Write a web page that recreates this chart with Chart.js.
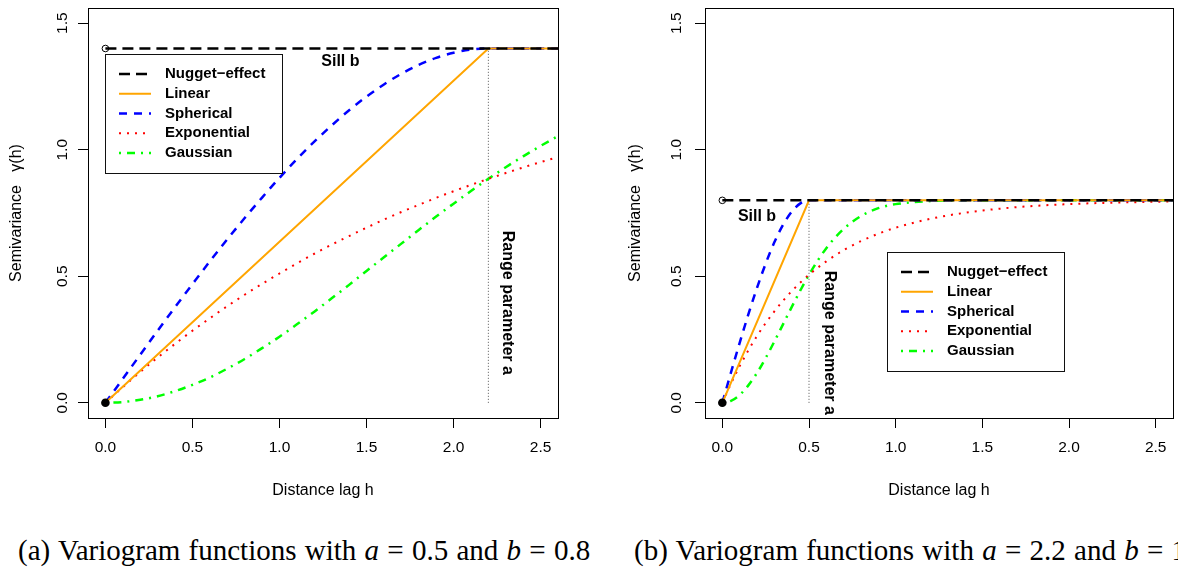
<!DOCTYPE html>
<html>
<head>
<meta charset="utf-8">
<script src="https://cdn.jsdelivr.net/npm/chart.js@4.4.1/dist/chart.umd.min.js"></script>
<style>
  html, body { margin: 0; padding: 0; background: #fff; }
  body { width: 1178px; height: 569px; position: relative; overflow: hidden; }
  .panel { position: absolute; top: 0; width: 589px; height: 520px; }
  .caption {
    position: absolute; top: 533px;
    font-family: "Liberation Serif", "Times New Roman", serif;
    font-size: 29px; line-height: 34px; white-space: nowrap; color: #000;
    word-spacing: 1px;
  }
</style>
</head>
<body>
<div class="panel" style="left:0"><canvas id="left"></canvas></div>
<div class="panel" style="left:589px"><canvas id="right"></canvas></div>
<div class="caption" style="left:18px">(a) Variogram functions with <i>a</i> = 0.5 and <i>b</i> = 0.8</div>
<div class="caption" style="left:634px">(b) Variogram functions with <i>a</i> = 2.2 and <i>b</i> = 1.4</div>
<script>
// axis ticks (same for both panels)
const xTicks = [0, 0.5, 1, 1.5, 2, 2.5];
const yTicks = [0, 0.5, 1, 1.5];
const modelNames = ['Nugget\u2212effect', 'Linear', 'Spherical', 'Exponential', 'Gaussian'];

// left panel: range 2.2, sill 1.4
const rangeLeft = 2.2;
const sillLeft = 1.4;
const hLeft = [0, 0.1, 0.2, 0.3, 0.4, 0.5, 0.6, 0.7, 0.8, 0.9, 1.0, 1.1, 1.2, 1.3,
  1.4, 1.5, 1.6, 1.7, 1.8, 1.9, 2.0, 2.1, 2.2, 2.3, 2.4, 2.5, 2.6];
const linLeftH = [0, 2.2, 2.6];
const linLeft = [0, 1.4, 1.4];
const sphLeft = [0, 0.095, 0.190, 0.285, 0.378, 0.469, 0.559, 0.646, 0.730, 0.811,
  0.889, 0.963, 1.032, 1.096, 1.156, 1.210, 1.258, 1.300, 1.335, 1.363, 1.383,
  1.396, 1.4, 1.4, 1.4, 1.4, 1.4];
const expLeft = [0, 0.062, 0.122, 0.179, 0.233, 0.285, 0.334, 0.382, 0.427, 0.470,
  0.511, 0.551, 0.589, 0.625, 0.659, 0.692, 0.724, 0.754, 0.782, 0.810, 0.836,
  0.861, 0.885, 0.908, 0.930, 0.951, 0.971];
const gauLeft = [0, 0.003, 0.012, 0.026, 0.046, 0.071, 0.100, 0.135, 0.173, 0.216,
  0.261, 0.310, 0.360, 0.413, 0.466, 0.521, 0.575, 0.629, 0.683, 0.736, 0.787,
  0.837, 0.885, 0.931, 0.974, 1.015, 1.054];

// right panel: range 0.5, sill 0.8
const rangeRight = 0.5;
const sillRight = 0.8;
const hRight = [0, 0.05, 0.1, 0.15, 0.2, 0.25, 0.3, 0.35, 0.4, 0.45, 0.5, 0.6, 0.7,
  0.8, 0.9, 1.0, 1.2, 1.4, 1.6, 1.8, 2.0, 2.2, 2.4, 2.6];
const linRightH = [0, 0.5, 2.6];
const linRight = [0, 0.8, 0.8];
const sphRight = [0, 0.120, 0.237, 0.349, 0.454, 0.550, 0.634, 0.703, 0.755, 0.788,
  0.8, 0.8, 0.8, 0.8, 0.8, 0.8, 0.8, 0.8, 0.8, 0.8, 0.8, 0.8, 0.8, 0.8];
const expRight = [0, 0.076, 0.145, 0.207, 0.264, 0.315, 0.361, 0.403, 0.441, 0.475,
  0.506, 0.559, 0.603, 0.639, 0.668, 0.692, 0.727, 0.751, 0.767, 0.778, 0.785,
  0.790, 0.793, 0.796];
const gauRight = [0, 0.008, 0.031, 0.069, 0.118, 0.177, 0.242, 0.310, 0.378, 0.444,
  0.506, 0.611, 0.687, 0.738, 0.769, 0.785, 0.797, 0.8, 0.8, 0.8, 0.8, 0.8, 0.8, 0.8];

const SANS = '"Liberation Sans", Arial, Helvetica, sans-serif';
const pts = (xs, ys) => xs.map((x, i) => ({ x, y: ys[i] }));

// box, annotations and the legend drawn R-style inside the plot
const decor = {
  id: 'decor',
  afterDraw(chart, args, o) {
    const { ctx, chartArea: a, scales: { x, y } } = chart;
    ctx.save();
    ctx.strokeStyle = '#000';
    ctx.lineWidth = 1;
    ctx.strokeRect(a.left + 0.5, a.top + 0.5, a.right - a.left, a.bottom - a.top);

    ctx.fillStyle = '#000';
    ctx.font = 'bold 16px ' + SANS;
    ctx.textAlign = 'center';
    ctx.textBaseline = 'middle';
    ctx.fillText('Sill b', x.getPixelForValue(o.sillText[0]), y.getPixelForValue(o.sillText[1]));
    ctx.save();
    ctx.translate(x.getPixelForValue(o.rangeText[0]), y.getPixelForValue(o.rangeText[1]));
    ctx.rotate(Math.PI / 2);
    ctx.fillText('Range parameter a', 0, 0);
    ctx.restore();

    const lx = Math.round(x.getPixelForValue(o.legendAt[0])) + 0.5;
    const ly = Math.round(y.getPixelForValue(o.legendAt[1])) + 0.5;
    ctx.fillStyle = '#fff';
    ctx.fillRect(lx, ly, 177, 119);
    ctx.strokeStyle = '#111';
    ctx.strokeRect(lx, ly, 177, 119);
    ctx.font = 'bold 15px ' + SANS;
    ctx.textAlign = 'left';
    modelNames.forEach((name, i) => {
      const ds = chart.data.datasets.find(d => d.label === name);
      const ry = ly + 19.5 + i * 19.75;
      ctx.beginPath();
      ctx.setLineDash(ds.borderDash || []);
      ctx.strokeStyle = ds.borderColor;
      ctx.lineWidth = ds.borderWidth;
      ctx.moveTo(lx + 13.5, ry);
      ctx.lineTo(lx + 45.5, ry);
      ctx.stroke();
      ctx.setLineDash([]);
      ctx.fillStyle = '#000';
      ctx.fillText(name, lx + 59.5, ry);
    });
    ctx.restore();
  }
};

function axisFont(size) {
  return { family: SANS, size: size };
}

function makeChart(id, p) {
  const datasets = [
    { label: modelNames[0], data: pts([0, 2.6], [p.sill, p.sill]), borderColor: '#000',
      borderWidth: 2.5, borderDash: [11, 6], pointRadius: 0 },
    { label: 'open', data: pts([0], [p.sill]), showLine: false, pointRadius: 3.3,
      backgroundColor: '#fff', borderColor: '#000', borderWidth: 1 },
    { label: 'origin', data: pts([0], [0]), showLine: false, pointRadius: 4.3,
      backgroundColor: '#000', borderColor: '#000', borderWidth: 0 },
    { label: modelNames[1], data: pts(p.linH, p.lin), borderColor: '#FFA500',
      borderWidth: 2, pointRadius: 0 },
    { label: modelNames[2], data: pts(p.h, p.sph), borderColor: '#0000FF',
      borderWidth: 2.5, borderDash: [8, 7], pointRadius: 0, cubicInterpolationMode: 'monotone' },
    { label: modelNames[3], data: pts(p.h, p.exp), borderColor: '#FF0000',
      borderWidth: 2, borderDash: [2, 6], pointRadius: 0, cubicInterpolationMode: 'monotone' },
    { label: modelNames[4], data: pts(p.h, p.gau), borderColor: '#00FF00',
      borderWidth: 2.5, borderDash: [2, 6, 8, 6], pointRadius: 0, cubicInterpolationMode: 'monotone' },
    { label: 'range', data: pts([p.range, p.range], [0, p.sill]), borderColor: '#555',
      borderWidth: 1, borderDash: [1, 2], pointRadius: 0 }
  ];

  return new Chart(document.getElementById(id), {
    type: 'line',
    data: { datasets },
    options: {
      responsive: true,
      maintainAspectRatio: false,
      animation: false,
      events: [],
      layout: { padding: { left: p.padLeft, right: p.padRight, top: 8, bottom: 0 } },
      plugins: {
        legend: { display: false },
        tooltip: { enabled: false },
        decor: { sillText: p.sillText, rangeText: p.rangeText, legendAt: p.legendAt }
      },
      scales: {
        x: {
          type: 'linear', min: -0.1, max: 2.6,
          afterBuildTicks: s => { s.ticks = xTicks.map(v => ({ value: v })); },
          afterFit: s => { s.height = 102; s.paddingLeft = 0; s.paddingRight = 0; },
          ticks: { font: axisFont(15.5), color: '#000', padding: 10, autoSkip: false,
            maxRotation: 0, callback: v => v.toFixed(1) },
          grid: { display: true, drawOnChartArea: false, drawTicks: true, tickLength: 10,
            tickColor: '#000', tickWidth: 1 },
          border: { display: false },
          title: { display: true, text: 'Distance lag h', font: axisFont(16), color: '#000',
            padding: { top: 0, bottom: 20 } }
        },
        y: {
          type: 'linear', min: -0.06, max: 1.56,
          afterBuildTicks: s => { s.ticks = yTicks.map(v => ({ value: v })); },
          afterFit: s => { s.width = p.yWidth; s.paddingTop = 0; s.paddingBottom = 0; },
          ticks: { font: axisFont(15.5), color: '#000', padding: p.yPad, autoSkip: false,
            minRotation: 90, maxRotation: 90, crossAlign: 'center', callback: v => v.toFixed(1) },
          grid: { display: true, drawOnChartArea: false, drawTicks: true, tickLength: 10,
            tickColor: '#000', tickWidth: 1 },
          border: { display: false },
          title: { display: true, text: 'Semivariance   \u03B3(h)', font: axisFont(16), color: '#000',
            padding: { top: 7, bottom: 0 } }
        }
      }
    },
    plugins: [decor]
  });
}

makeChart('left', {
  h: hLeft, sph: sphLeft, exp: expLeft, gau: gauLeft, linH: linLeftH, lin: linLeft,
  sill: sillLeft, range: rangeLeft,
  sillText: [1.35, 1.35], rangeText: [2.31, 0.395], legendAt: [0.0, 1.38],
  padLeft: 0, padRight: 31, yWidth: 88, yPad: 5
});

makeChart('right', {
  h: hRight, sph: sphRight, exp: expRight, gau: gauRight, linH: linRightH, lin: linRight,
  sill: sillRight, range: rangeRight,
  sillText: [0.2, 0.735], rangeText: [0.62, 0.237], legendAt: [0.95, 0.597],
  padLeft: 30, padRight: 3, yWidth: 86, yPad: 8
});
</script>
</body>
</html>
